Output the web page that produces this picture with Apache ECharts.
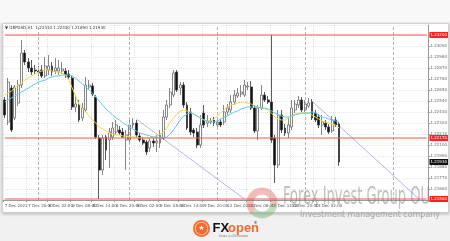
<!DOCTYPE html>
<html><head><meta charset="utf-8">
<script src="https://cdn.jsdelivr.net/npm/echarts@6/dist/echarts.min.js"></script>
<style>
html,body{margin:0;padding:0;width:450px;height:241px;overflow:hidden;background:linear-gradient(#f8f8f8 0px,#f8f8f8 23px,#f1f1f1 23px);}
#panel{position:absolute;left:2px;top:23px;width:445px;height:188px;background:#fff;border:1px solid #cfcfcf;box-shadow:0 1px 3px rgba(0,0,0,0.25);}
#chart{position:absolute;left:0;top:0;width:450px;height:241px;}
</style></head><body>
<div id="panel"></div><div id="chart"></div>
<script>
// ---- data (GBPUSD, H1) ----
const opens = [1.2255,1.2233,1.2267,1.2237,1.2252,1.2270,1.2302,1.2293,1.2287,1.2285,
1.2284,1.2285,1.2279,1.2285,1.2289,1.2284,1.2284,1.2284,1.2284,1.2281,
1.2277,1.2248,1.2250,1.2237,1.2245,1.2268,1.2269,1.2258,1.2217,1.2185,
1.2218,1.2215,1.2218,1.2223,1.2225,1.2223,1.2215,1.2215,1.2230,1.2232,
1.2219,1.2215,1.2213,1.2207,1.2214,1.2212,1.2212,1.2217,1.2238,1.2250,
1.2260,1.2283,1.2267,1.2270,1.2250,1.2243,1.2225,1.2223,1.2210,1.2242,
1.2232,1.2233,1.2235,1.2230,1.2233,1.2233,1.2243,1.2245,1.2253,1.2259,
1.2261,1.2260,1.2268,1.2268,1.2247,1.2224,1.2247,1.2260,1.2255,1.2253,
1.2217,1.2190,1.2240,1.2227,1.2222,1.2228,1.2245,1.2250,1.2255,1.2245,
1.2249,1.2253,1.2242,1.2238,1.2230,1.2232,1.2228,1.2224,1.2235,1.2231];
const closes = [1.2240,1.2273,1.2225,1.2268,1.2270,1.2302,1.2293,1.2287,1.2283,1.2284,
1.2282,1.2279,1.2289,1.2289,1.2283,1.2287,1.2287,1.2286,1.2280,1.2278,
1.2248,1.2251,1.2235,1.2247,1.2270,1.2270,1.2261,1.2218,1.2185,1.2217,
1.2205,1.2223,1.2227,1.2230,1.2222,1.2218,1.2220,1.2230,1.2232,1.2220,
1.2215,1.2212,1.2203,1.2214,1.2212,1.2214,1.2220,1.2238,1.2250,1.2263,
1.2282,1.2265,1.2270,1.2250,1.2227,1.2223,1.2222,1.2210,1.2230,1.2230,
1.2234,1.2234,1.2232,1.2233,1.2230,1.2243,1.2247,1.2253,1.2260,1.2262,
1.2263,1.2270,1.2269,1.2247,1.2224,1.2247,1.2260,1.2255,1.2253,1.2215,
1.2190,1.2240,1.2225,1.2222,1.2230,1.2247,1.2251,1.2255,1.2245,1.2251,
1.2252,1.2237,1.2235,1.2230,1.2233,1.2228,1.2223,1.2235,1.2230,1.2193];
const lows = [1.2237,1.2230,1.2223,1.2235,1.2249,1.2267,1.2290,1.2283,1.2280,1.2281,
1.2279,1.2277,1.2277,1.2280,1.2279,1.2281,1.2280,1.2281,1.2277,1.2275,
1.2245,1.2243,1.2233,1.2234,1.2243,1.2265,1.2259,1.2216,1.2156,1.2180,
1.2195,1.2187,1.2215,1.2220,1.2220,1.2217,1.2185,1.2213,1.2227,1.2218,
1.2213,1.2210,1.2200,1.2203,1.2208,1.2203,1.2207,1.2215,1.2235,1.2247,
1.2258,1.2263,1.2260,1.2247,1.2225,1.2220,1.2218,1.2207,1.2207,1.2227,
1.2228,1.2231,1.2229,1.2227,1.2228,1.2230,1.2240,1.2242,1.2250,1.2257,
1.2258,1.2258,1.2265,1.2245,1.2222,1.2215,1.2245,1.2253,1.2251,1.2212,
1.2172,1.2187,1.2222,1.2219,1.2217,1.2225,1.2242,1.2247,1.2243,1.2243,
1.2247,1.2235,1.2233,1.2227,1.2220,1.2225,1.2221,1.2222,1.2228,1.2189];
const highs = [1.2258,1.2277,1.2270,1.2270,1.2275,1.2315,1.2305,1.2297,1.2295,1.2290,
1.2289,1.2290,1.2298,1.2300,1.2293,1.2297,1.2295,1.2293,1.2287,1.2285,
1.2279,1.2260,1.2255,1.2252,1.2278,1.2275,1.2272,1.2260,1.2220,1.2220,
1.2220,1.2227,1.2233,1.2235,1.2229,1.2227,1.2225,1.2235,1.2237,1.2235,
1.2222,1.2218,1.2215,1.2217,1.2217,1.2220,1.2225,1.2245,1.2255,1.2267,
1.2285,1.2285,1.2273,1.2273,1.2253,1.2247,1.2227,1.2227,1.2240,1.2250,
1.2240,1.2237,1.2238,1.2237,1.2236,1.2250,1.2251,1.2260,1.2265,1.2267,
1.2270,1.2275,1.2273,1.2274,1.2250,1.2250,1.2270,1.2263,1.2259,1.2320,
1.2220,1.2245,1.2245,1.2231,1.2237,1.2255,1.2255,1.2259,1.2258,1.2255,
1.2257,1.2256,1.2245,1.2241,1.2240,1.2235,1.2231,1.2239,1.2238,1.2233];
const maFast = [1.2260,1.2262,1.2264,1.2267,1.2270,1.2272,1.2275,1.2277,1.2279,1.2281,
1.2283,1.2284,1.2285,1.2285,1.2284,1.2283,1.2283,1.2282,1.2280,1.2275,
1.2267,1.2259,1.2251,1.2247,1.2243,1.2239,1.2235,1.2232,1.2228,1.2226,
1.2224,1.2222,1.2221,1.2220,1.2220,1.2219,1.2219,1.2218,1.2218,1.2218,
1.2217,1.2217,1.2217,1.2217,1.2218,1.2219,1.2221,1.2223,1.2227,1.2233,
1.2237,1.2241,1.2244,1.2245,1.2244,1.2243,1.2241,1.2239,1.2237,1.2235,
1.2234,1.2234,1.2236,1.2239,1.2242,1.2245,1.2248,1.2250,1.2251,1.2252,
1.2253,1.2253,1.2252,1.2251,1.2249,1.2248,1.2247,1.2246,1.2245,1.2242,
1.2238,1.2236,1.2235,1.2235,1.2237,1.2239,1.2241,1.2242,1.2242,1.2242,
1.2242,1.2240,1.2238,1.2236,1.2234,1.2233,1.2232,1.2231,1.2230,1.2227];
const maSlow = [1.2253,1.2255,1.2257,1.2259,1.2261,1.2263,1.2265,1.2267,1.2269,1.2271,
1.2273,1.2274,1.2275,1.2277,1.2278,1.2279,1.2279,1.2280,1.2280,1.2280,
1.2279,1.2277,1.2274,1.2271,1.2268,1.2265,1.2262,1.2258,1.2254,1.2250,
1.2246,1.2243,1.2240,1.2237,1.2235,1.2232,1.2230,1.2228,1.2226,1.2224,
1.2222,1.2221,1.2220,1.2219,1.2218,1.2218,1.2217,1.2217,1.2218,1.2221,
1.2225,1.2230,1.2235,1.2239,1.2241,1.2242,1.2241,1.2239,1.2237,1.2235,
1.2234,1.2233,1.2233,1.2234,1.2236,1.2238,1.2239,1.2241,1.2243,1.2244,
1.2246,1.2247,1.2248,1.2248,1.2248,1.2248,1.2247,1.2247,1.2246,1.2244,
1.2242,1.2240,1.2239,1.2238,1.2238,1.2239,1.2240,1.2241,1.2242,1.2242,
1.2242,1.2243,1.2242,1.2240,1.2238,1.2237,1.2236,1.2235,1.2234,1.2233];
const tickIndex = [0,7,13,20,26,33,39,46,52,59,66,72,79,85,92,98];
const tickLabels = ['7 Dec 2022','7 Dec 20:00','8 Dec 02:00','8 Dec 08:00','8 Dec 14:00','8 Dec 20:00','9 Dec 02:00','9 Dec 08:00','9 Dec 14:00','9 Dec 20:00','12 Dec 02:00','12 Dec 08:00','12 Dec 14:00','12 Dec 20:00','13 Dec 02:00','13 Dec 08:00'];
const daySeparators = [10,37,63,89,115];
const levelLines = [1.2320,1.2217,1.2156];
const lastPrice = 1.2193;
const trend1 = [[39,1.2236],[71,1.2156]];
const trend2 = [[91,1.2254],[123,1.2155]];
const slotCount = 126;

const categories = [];
for (let i = 0; i < slotCount; i++) categories.push('b' + i);
tickIndex.forEach((p, k) => { categories[p] = tickLabels[k]; });
const candles = opens.map((o, i) => [o, closes[i], lows[i], highs[i]]);
const isTick = (idx) => tickIndex.indexOf(idx) >= 0;

function fitScale(text, font, target) {
  const c = document.createElement('canvas').getContext('2d');
  c.font = font;
  return target / c.measureText(text).width;
}
const wmFont = '24px "DejaVu Sans"';
const wmText = 'Forex Invest Group OU';
const wmScale = fitScale(wmText, wmFont, 147);
const subFont = '9px "DejaVu Sans"';
const subText = 'Investment management company';
const subScale = fitScale(subText, subFont, 140);

const chart = echarts.init(document.getElementById('chart'), null, {renderer: 'canvas'});
const tiny = {fontFamily: 'DejaVu Sans', fontSize: 4};
const priceLabel = (bg) => Object.assign({show: true, position: 'end', distance: 1, formatter: p => Number(p.value).toFixed(5), color: '#fff', backgroundColor: bg, padding: [1, 1]}, tiny);
chart.setOption({
  animation: false,
  backgroundColor: 'transparent',
  grid: {left: 3, right: 18, top: 25, bottom: 41},
  xAxis: {
    type: 'category', data: categories, boundaryGap: true,
    axisLine: {lineStyle: {color: '#9a9a9a', width: 1}},
    axisTick: {show: true, length: 2, interval: isTick, lineStyle: {color: '#999'}},
    axisLabel: Object.assign({interval: isTick, color: '#555', align: 'left', margin: 4}, tiny),
    splitLine: {show: true, interval: isTick, lineStyle: {color: '#e2e2e2', type: [1, 1], width: 1}}
  },
  yAxis: {
    type: 'value', position: 'right', scale: true,
    min: 1.2155, max: 1.2330, interval: 0.0011,
    axisLine: {show: true, lineStyle: {color: '#9a9a9a'}},
    axisTick: {show: true, length: 2, lineStyle: {color: '#999'}},
    axisLabel: Object.assign({color: '#666', margin: 2, showMaxLabel: false, formatter: v => v.toFixed(5)}, tiny),
    splitLine: {show: true, lineStyle: {color: '#e6e6e6', type: [1, 1], width: 1}}
  },
  series: [
    {
      type: 'line', data: [], silent: true, z: 1,
      markLine: {
        silent: true, symbol: 'none', animation: false, precision: 5,
        lineStyle: {color: '#b4b4b4', width: 1, type: [3, 2]},
        label: {show: false},
        data: daySeparators.map(v => ({xAxis: v}))
      }
    },
    ...levelLines.map(v => ({
      type: 'line', silent: true, z: 6, showSymbol: false,
      data: [[0, v], [slotCount - 1, v]],
      lineStyle: {color: '#ff5252', width: 1},
      markLine: {
        silent: true, symbol: 'none', animation: false, precision: 5,
        lineStyle: {color: 'rgba(0,0,0,0)', width: 1},
        label: priceLabel('#ff2020'),
        data: [{yAxis: v}]
      }
    })),
    {
      type: 'line', data: [], silent: true, z: 6,
      markLine: {
        silent: true, symbol: 'none', animation: false, precision: 5,
        lineStyle: {color: 'rgba(0,0,0,0)', width: 1},
        label: priceLabel('#111111'),
        data: [{yAxis: lastPrice}]
      }
    },
    {
      type: 'candlestick', data: candles, barWidth: 2.4, z: 3,
      itemStyle: {color: '#ffffff', color0: '#111111', borderColor: '#6a6a6a', borderColor0: '#333333', borderWidth: 0.8}
    },
    {type: 'line', data: maFast, showSymbol: false, z: 4, lineStyle: {color: '#f5d54a', width: 1}},
    {type: 'line', data: maSlow, showSymbol: false, z: 4, lineStyle: {color: '#5ec8f2', width: 1}},
    {type: 'line', data: trend1, showSymbol: false, z: 2, lineStyle: {color: '#b3b3ef', width: 1}},
    {type: 'line', data: trend2, showSymbol: false, z: 2, lineStyle: {color: '#b3b3ef', width: 1}}
  ],
  graphic: [
    {type: 'text', left: 5, top: 25.5, z: 10, style: {text: '\u25BC GBPUSD,H1  1.22310 1.22330 1.21890 1.21930', fill: '#333', font: '4px "DejaVu Sans"'}},
    {type: 'arc', z: 10, shape: {cx: 262, cy: 203, r: 12, startAngle: Math.PI * 0.75, endAngle: Math.PI * 2.05}, style: {stroke: 'rgba(214,84,72,0.38)', lineWidth: 7, fill: null}},
    {type: 'arc', z: 10, shape: {cx: 262, cy: 203, r: 12, startAngle: Math.PI * 0.05, endAngle: Math.PI * 0.75}, style: {stroke: 'rgba(96,170,96,0.38)', lineWidth: 7, fill: null}},
    {type: 'text', x: 283, y: 186, z: 10, scaleX: wmScale, style: {text: wmText, font: wmFont, fill: 'rgba(115,115,115,0.45)', textVerticalAlign: 'top'}},
    {type: 'text', x: 300, y: 210, z: 10, scaleX: subScale, style: {text: subText, font: subFont, fill: '#a6a6a6', textVerticalAlign: 'top'}},
    {type: 'circle', z: 10, shape: {cx: 201.5, cy: 228.5, r: 8.5}, style: {fill: '#f26a2c'}},
    {type: 'circle', z: 10, shape: {cx: 201.5, cy: 228.5, r: 6.3}, style: {fill: null, stroke: 'rgba(255,255,255,0.8)', lineWidth: 0.8}},
    {type: 'text', x: 201.5, y: 228.5, z: 11, style: {text: '\u2605', font: 'bold 7px "DejaVu Sans"', fill: '#fff', textAlign: 'center', textVerticalAlign: 'middle'}},
    {type: 'text', x: 212.5, y: 221.5, z: 10, style: {text: 'FX', font: 'bold 13px "Liberation Sans"', fill: '#111', textVerticalAlign: 'top'}},
    {type: 'text', x: 228, y: 221.5, z: 10, style: {text: 'open', font: 'bold 13px "Liberation Sans"', fill: '#f26a2c', textVerticalAlign: 'top'}},
    {type: 'text', x: 253.5, y: 221, z: 10, style: {text: '\u00AE', font: '4px "DejaVu Sans"', fill: '#333', textVerticalAlign: 'top'}},
    {type: 'text', x: 219, y: 235, z: 10, style: {text: 'Forex & CFD broker', font: '3px "DejaVu Sans"', fill: '#666', textVerticalAlign: 'top'}}
  ]
});
</script></body></html>
